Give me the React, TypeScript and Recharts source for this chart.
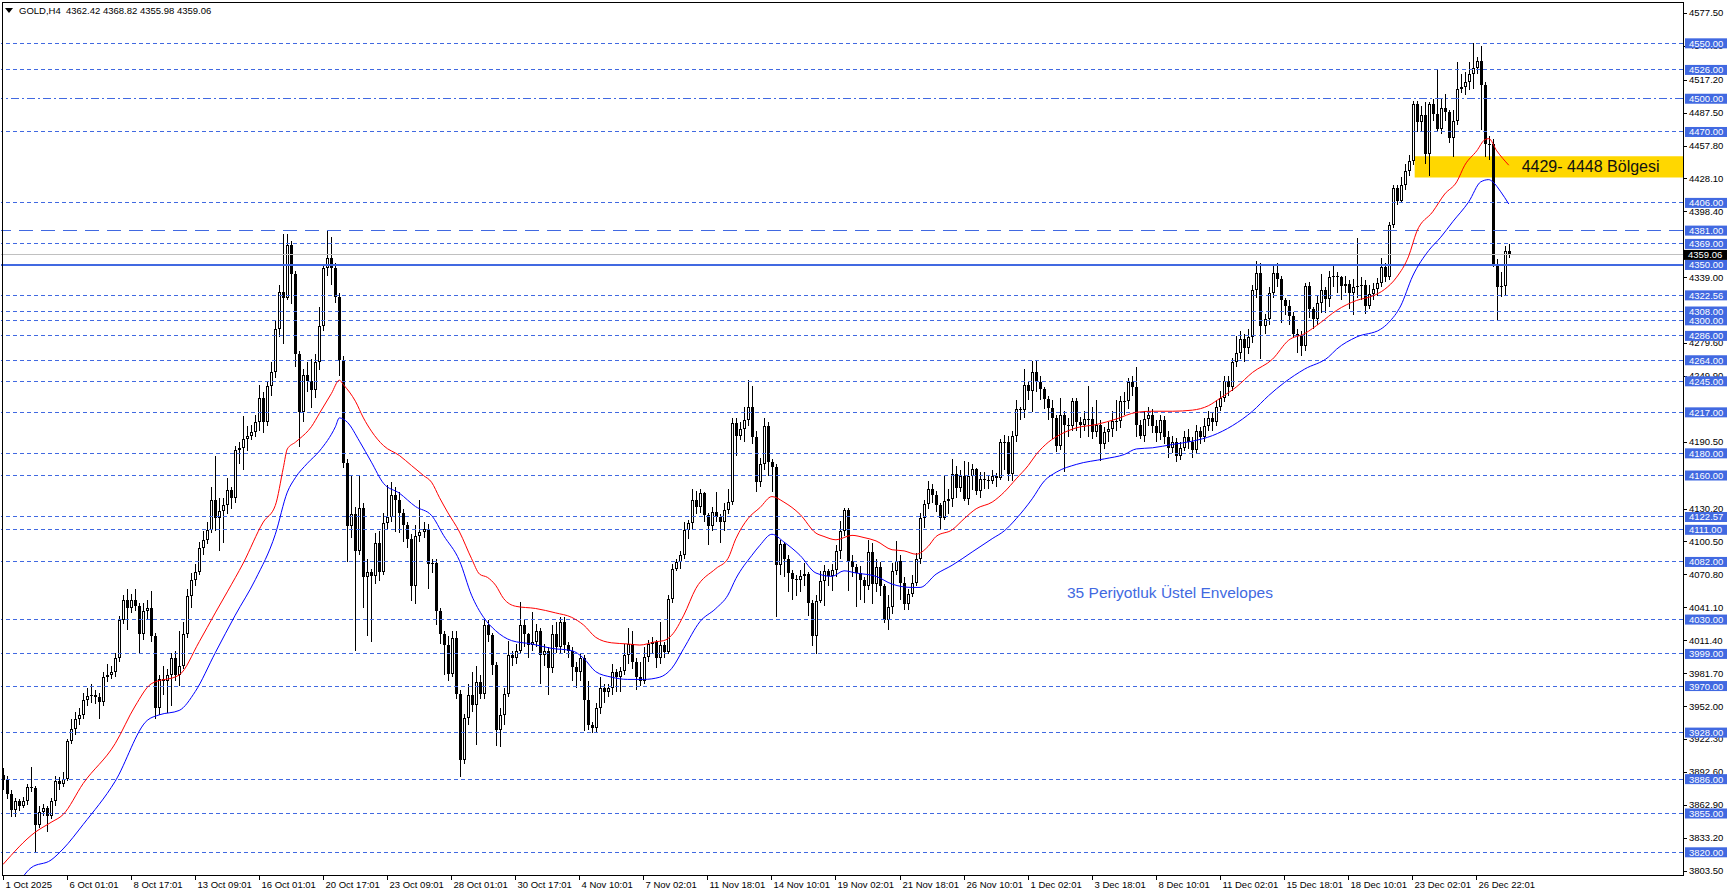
import React from "react";
import {
  ComposedChart,
  Bar,
  Line,
  XAxis,
  YAxis,
  ReferenceLine,
  ReferenceArea,
} from "recharts";

const W = 1729;
const H = 896;
const SLOTS = 420; // bar slots on the x axis (right part left empty, chart shift)
const FIRST_OPEN = 3890;

// H4 closes (opens are the previous close)
const closes = [
  3885, 3873, 3858, 3866, 3862, 3866, 3879, 3878, 3845, 3856,
  3860, 3853, 3866, 3884, 3882, 3886, 3920, 3931, 3940, 3944,
  3957, 3961, 3962, 3960, 3956, 3978, 3980, 3983, 3995, 4030,
  4048, 4040, 4048, 4042, 4017, 4038, 4040, 4015, 3950, 3976,
  3975, 3980, 3995, 3980, 3988, 4017, 4051, 4066, 4073, 4095,
  4102, 4111, 4138, 4122, 4128, 4133, 4147, 4140, 4183, 4185,
  4193, 4196, 4199, 4208, 4230, 4208, 4241, 4253, 4292, 4326,
  4320, 4368, 4342, 4270, 4217, 4251, 4245, 4237, 4262, 4295,
  4347, 4356, 4347, 4321, 4264, 4171, 4114, 4125, 4092, 4131,
  4068, 4073, 4069, 4099, 4073, 4117, 4123, 4142, 4138, 4126,
  4115, 4103, 4060, 4105, 4109, 4112, 4080, 4081, 4038, 4017,
  4007, 3981, 4013, 3963, 3903, 3941, 3962, 3953, 3974, 3963,
  4025, 4016, 3989, 3930, 3944, 3963, 3998, 3995, 4002, 4025,
  4017, 4007, 4010, 4020, 3998, 4002, 3986, 4017, 4005, 4028,
  4007, 4002, 3987, 3983, 3995, 3957, 3935, 3932, 3950, 3968,
  3965, 3968, 3983, 3978, 3984, 3998, 4008, 3992, 3978, 3975,
  3996, 4008, 4010, 3995, 4007, 4001, 4049, 4076, 4082, 4088,
  4111, 4117, 4138, 4132, 4144, 4124, 4114, 4127, 4123, 4118,
  4129, 4136, 4207, 4196, 4202, 4210, 4222, 4195, 4154, 4170,
  4205, 4172, 4168, 4079, 4098, 4085, 4072, 4067, 4066, 4069,
  4071, 4045, 4015, 4047, 4065, 4074, 4069, 4075, 4092, 4110,
  4129, 4083, 4077, 4072, 4066, 4060, 4091, 4062, 4077, 4060,
  4030, 4041, 4074, 4083, 4063, 4044, 4053, 4063, 4085, 4122,
  4134, 4148, 4142, 4133, 4122, 4137, 4139, 4161, 4149, 4160,
  4139, 4160, 4166, 4146, 4157, 4156, 4155, 4160, 4158, 4190,
  4190, 4161, 4196, 4220, 4219, 4242, 4236, 4253, 4244, 4238,
  4229, 4221, 4212, 4187, 4215, 4206, 4205, 4227, 4208, 4206,
  4211, 4211, 4199, 4206, 4188, 4199, 4202, 4209, 4209, 4227,
  4227, 4244, 4240, 4206, 4196, 4211, 4215, 4205, 4198, 4210,
  4195, 4185, 4190, 4178, 4185, 4195, 4190, 4183, 4200, 4195,
  4205, 4212, 4208, 4222, 4230, 4245, 4240, 4262, 4271, 4283,
  4275, 4285, 4327, 4343, 4295, 4301, 4325, 4343, 4337, 4318,
  4313, 4304, 4288, 4286, 4277, 4331, 4310, 4301, 4316, 4327,
  4319, 4339, 4340, 4339, 4331, 4333, 4325, 4330, 4331, 4332,
  4313, 4324, 4328, 4334, 4348, 4339, 4386, 4419, 4408, 4422,
  4435, 4444, 4495, 4479, 4485, 4450, 4495, 4486, 4473, 4492,
  4488, 4465, 4480, 4509, 4511, 4515, 4522, 4528, 4534, 4512,
  4459, 4459, 4351, 4330, 4331, 4362.42, 4359.06,
];

const highs = [
  3896, 3889, 3876, 3869, 3868, 3870, 3882, 3897, 3880, 3862,
  3864, 3862, 3869, 3889, 3888, 3892, 3922, 3940, 3947, 3950,
  3964, 3968, 3972, 3966, 3964, 3983, 3990, 3988, 4000, 4033,
  4052, 4058, 4053, 4058, 4045, 4045, 4048, 4056, 4018, 3980,
  3988, 3985, 4000, 4002, 4020, 4028, 4058, 4072, 4080, 4100,
  4110, 4118, 4150, 4178, 4140, 4140, 4158, 4150, 4187, 4190,
  4214, 4205, 4206, 4215, 4242, 4235, 4245, 4262, 4300, 4332,
  4378, 4378, 4372, 4345, 4272, 4256, 4262, 4265, 4270, 4312,
  4350, 4381, 4375, 4352, 4325, 4268, 4175, 4160, 4132, 4160,
  4135, 4085, 4076, 4108, 4110, 4126, 4151, 4154, 4150, 4145,
  4130, 4118, 4107, 4115, 4138, 4118, 4116, 4085, 4085, 4040,
  4020, 4015, 4020, 4020, 3966, 3945, 3972, 3983, 3988, 3980,
  4031, 4030, 4018, 3992, 3950, 3968, 4011, 4002, 4008, 4046,
  4030, 4018, 4037, 4026, 4022, 4008, 4005, 4025, 4028, 4032,
  4032, 4010, 4005, 3992, 4000, 3998, 3975, 3938, 3955, 3978,
  3972, 3972, 3990, 3985, 3987, 4008, 4022, 4020, 3995, 3992,
  4005, 4012, 4014, 4012, 4028, 4010, 4052, 4080, 4085, 4092,
  4118, 4120, 4148, 4146, 4148, 4145, 4126, 4132, 4145, 4125,
  4135, 4148, 4212, 4212, 4208, 4222, 4246, 4241, 4200, 4176,
  4212, 4208, 4175, 4170, 4102, 4100, 4088, 4075, 4070, 4075,
  4081, 4073, 4048, 4052, 4074, 4079, 4076, 4080, 4097, 4119,
  4131, 4131, 4088, 4080, 4078, 4068, 4102, 4099, 4085, 4082,
  4062, 4052, 4081, 4101, 4088, 4068, 4058, 4070, 4090, 4126,
  4138, 4155, 4152, 4146, 4135, 4160, 4148, 4175, 4169, 4165,
  4173, 4172, 4170, 4167, 4163, 4163, 4160, 4165, 4162, 4193,
  4197, 4196, 4200, 4228, 4222, 4256, 4245, 4263, 4263, 4250,
  4240, 4232, 4228, 4215, 4230, 4218, 4212, 4230, 4230, 4213,
  4218, 4241, 4222, 4228, 4210, 4204, 4208, 4218, 4228, 4232,
  4235, 4248, 4250, 4258, 4210, 4218, 4222, 4220, 4210, 4215,
  4214, 4200, 4196, 4194, 4190, 4200, 4202, 4195, 4206, 4204,
  4212, 4218, 4216, 4228, 4236, 4250, 4250, 4266, 4286, 4290,
  4288, 4292, 4332, 4354, 4352, 4306, 4330, 4349, 4352, 4340,
  4320, 4318, 4308, 4292, 4290, 4334, 4335, 4312, 4322, 4342,
  4330, 4345, 4349, 4344, 4340, 4340, 4336, 4337, 4374, 4339,
  4336, 4332, 4334, 4338, 4356, 4352, 4389, 4422, 4422, 4429,
  4441, 4449, 4498, 4498, 4493, 4497, 4497, 4500, 4526, 4501,
  4504, 4490, 4490, 4533, 4522, 4524, 4533, 4550, 4538, 4548,
  4515, 4466, 4464, 4355, 4344, 4367, 4368.82,
];

const lows = [
  3876, 3868, 3852, 3852, 3857, 3860, 3863, 3874, 3820, 3842,
  3853, 3838, 3850, 3862, 3876, 3879, 3884, 3918, 3926, 3935,
  3940, 3952, 3955, 3954, 3940, 3952, 3974, 3976, 3978, 3992,
  4026, 4021, 4036, 4038, 4000, 4012, 4030, 4010, 3940, 3944,
  3962, 3946, 3952, 3975, 3970, 3985, 4013, 4040, 4060, 4070,
  4088, 4098, 4108, 4110, 4092, 4099, 4125, 4130, 4135, 4170,
  4165, 4182, 4192, 4195, 4200, 4198, 4205, 4232, 4248, 4285,
  4279, 4318, 4315, 4258, 4186, 4208, 4235, 4221, 4230, 4255,
  4290, 4340, 4332, 4316, 4250, 4167, 4082, 4104, 4002, 4088,
  4040, 4015, 4010, 4062, 4065, 4070, 4112, 4118, 4109, 4108,
  4100, 4095, 4047, 4044, 4100, 4104, 4058, 4072, 4025, 4008,
  3980, 3975, 3978, 3958, 3888, 3900, 3935, 3947, 3917, 3958,
  3958, 4010, 3980, 3916, 3915, 3935, 3960, 3988, 3990, 4000,
  4005, 3995, 4002, 4005, 3972, 3988, 3962, 3982, 4000, 4000,
  4000, 3995, 3975, 3968, 3975, 3929, 3930, 3928, 3928, 3945,
  3955, 3960, 3962, 3965, 3965, 3980, 3990, 3985, 3966, 3970,
  3972, 3992, 4000, 3986, 3990, 3995, 3999, 4045, 4074, 4076,
  4085, 4103, 4112, 4125, 4126, 4118, 4097, 4110, 4118, 4099,
  4110, 4125, 4133, 4178, 4192, 4190, 4205, 4188, 4145, 4150,
  4165, 4160, 4145, 4032, 4070, 4068, 4055, 4048, 4051, 4055,
  4060, 4033, 4006, 3999, 4045, 4042, 4060, 4056, 4068, 4085,
  4105, 4056, 4068, 4041, 4048, 4045, 4057, 4044, 4055, 4051,
  4027, 4021, 4035, 4070, 4048, 4039, 4039, 4050, 4060, 4080,
  4113, 4130, 4135, 4127, 4112, 4120, 4125, 4132, 4140, 4145,
  4137, 4133, 4147, 4142, 4140, 4148, 4148, 4152, 4150, 4156,
  4165, 4155, 4155, 4190, 4210, 4212, 4228, 4217, 4235, 4228,
  4220, 4210, 4193, 4181, 4183, 4163, 4195, 4200, 4200, 4194,
  4200, 4195, 4193, 4195, 4173, 4184, 4190, 4195, 4200, 4203,
  4215, 4220, 4232, 4195, 4193, 4190, 4205, 4198, 4190, 4192,
  4188, 4176, 4180, 4172, 4174, 4182, 4184, 4176, 4180, 4188,
  4190, 4200, 4200, 4205, 4218, 4226, 4232, 4236, 4258, 4265,
  4262, 4270, 4280, 4320, 4265, 4288, 4296, 4320, 4330, 4298,
  4305, 4296, 4284, 4271, 4268, 4272, 4302, 4292, 4296, 4307,
  4307, 4312, 4330, 4325, 4318, 4325, 4310, 4305, 4320, 4318,
  4306, 4310, 4318, 4322, 4330, 4335, 4336, 4383, 4404, 4406,
  4418, 4430, 4440, 4470, 4470, 4441, 4430, 4480, 4470, 4468,
  4480, 4460, 4447, 4476, 4505, 4503, 4508, 4509, 4522, 4472,
  4447, 4445, 4348, 4300, 4321, 4322, 4355.98,
];

// 35-period exponential envelopes, [bar, price]
const upperEnv: [number, number][] = [
  [0, 3809], [8, 3838], [12, 3847], [15, 3854], [20, 3882], [28, 3918], [33, 3952],
  [37, 3972], [44, 3980], [49, 4010], [53, 4036], [56, 4055], [60, 4081], [65, 4118],
  [68, 4133], [70, 4167], [71, 4184], [73, 4190], [74, 4193], [77, 4204], [79, 4216],
  [82, 4234], [84, 4246], [85, 4242], [88, 4227], [90, 4212], [92, 4200], [95, 4187],
  [99, 4178], [102, 4169], [105, 4160], [107, 4154], [109, 4140], [111, 4127], [114, 4109],
  [117, 4085], [119, 4071], [121, 4068], [123, 4061], [125, 4049], [128, 4042], [133, 4040],
  [138, 4036], [142, 4032], [145, 4025], [148, 4014], [152, 4009], [156, 4008], [159, 4007],
  [163, 4010], [165, 4011], [167, 4016], [170, 4034], [173, 4058], [178, 4076], [181, 4085],
  [183, 4103], [186, 4121], [189, 4131], [192, 4141], [195, 4136], [199, 4125], [203, 4108],
  [205, 4105], [208, 4102], [212, 4106], [215, 4104], [218, 4101], [222, 4093], [225, 4092],
  [228, 4089], [231, 4096], [233, 4105], [237, 4111], [240, 4121], [243, 4130], [247, 4136],
  [250, 4145], [253, 4157], [256, 4169], [258, 4179], [261, 4190], [264, 4197], [268, 4203],
  [273, 4206], [278, 4211], [283, 4217], [287, 4218], [292, 4218], [297, 4219], [301, 4223],
  [304, 4230], [308, 4240], [312, 4253], [317, 4265], [321, 4282], [325, 4288], [329, 4298],
  [333, 4309], [338, 4318], [342, 4322], [345, 4328], [348, 4339], [351, 4358], [353, 4380],
  [357, 4398], [360, 4414], [363, 4425], [365, 4440], [368, 4453], [370, 4463], [371, 4464],
  [373, 4453], [376, 4440],
];

const lowerEnv: [number, number][] = [
  [5, 3798], [7, 3806], [12, 3813], [15, 3823], [20, 3845], [28, 3884], [36, 3939],
  [39, 3944], [44, 3948], [48, 3965], [53, 4000], [58, 4034], [63, 4066], [68, 4107],
  [71, 4145], [73, 4158], [76, 4171], [79, 4182], [83, 4204], [84, 4212], [86, 4208],
  [89, 4191], [92, 4172], [95, 4153], [99, 4144], [103, 4132], [107, 4124], [110, 4106],
  [114, 4083], [117, 4052], [120, 4032], [123, 4020], [127, 4011], [132, 4008], [137, 4004],
  [142, 4002], [145, 3995], [148, 3983], [152, 3978], [156, 3976], [160, 3976], [164, 3978],
  [167, 3986], [170, 4004], [174, 4028], [178, 4040], [181, 4052], [183, 4067], [187, 4088],
  [189, 4097], [192, 4107], [195, 4100], [199, 4088], [203, 4072], [207, 4069], [210, 4074],
  [213, 4072], [218, 4069], [222, 4062], [227, 4059], [229, 4059], [233, 4071], [237, 4079],
  [242, 4091], [247, 4103], [250, 4110], [253, 4121], [257, 4139], [260, 4155], [263, 4163],
  [268, 4170], [275, 4175], [280, 4179], [283, 4184], [287, 4185], [292, 4188], [297, 4191],
  [302, 4196], [307, 4205], [312, 4218], [316, 4232], [320, 4244], [325, 4256], [331, 4267],
  [333, 4274], [338, 4285], [344, 4292], [346, 4298], [349, 4313], [352, 4340], [356, 4363],
  [359, 4375], [362, 4389], [366, 4407], [369, 4425], [371, 4427], [372, 4425], [374, 4416],
  [376, 4405],
];

const timeTickBars = [
  0, 16, 32, 48, 64, 80, 96, 112, 128, 144, 160, 176,
  192, 208, 224, 240, 256, 272, 288, 304, 320, 336, 352, 368,
];
const timeLabels = [
  "1 Oct 2025", "6 Oct 01:01", "8 Oct 17:01", "13 Oct 09:01", "16 Oct 01:01", "20 Oct 17:01",
  "23 Oct 09:01", "28 Oct 01:01", "30 Oct 17:01", "4 Nov 10:01", "7 Nov 02:01", "11 Nov 18:01",
  "14 Nov 10:01", "19 Nov 02:01", "21 Nov 18:01", "26 Nov 10:01", "1 Dec 02:01", "3 Dec 18:01",
  "8 Dec 10:01", "11 Dec 02:01", "15 Dec 18:01", "18 Dec 10:01", "23 Dec 02:01", "26 Dec 22:01",
];

const priceTicks = [
  3803.5, 3833.2, 3862.9, 3892.6, 3922.3, 3952.0, 3981.7, 4011.4, 4041.1, 4070.8,
  4100.5, 4130.2, 4190.5, 4249.9, 4279.6, 4339.0, 4398.4, 4428.1, 4457.8, 4487.5,
  4517.2, 4547.8, 4577.5,
];

const levels = [
  4550, 4526, 4500, 4470, 4406, 4381, 4369, 4350, 4322.56, 4308, 4300, 4286, 4264, 4245,
  4217, 4180, 4160, 4122.57, 4111, 4082, 4030, 3999, 3970, 3928, 3886, 3855, 3820,
];
const dashDotLevels = [4500];
const longDashLevels = [4381];
const solidLevels = [4350];

const lastPrice = 4359.06;
const zoneLow = 4429;
const zoneHigh = 4448;
const zoneStartBar = 353;

const Y_DOMAIN: [number, number] = [3799.5, 4589.1];
const BLUE = "#4169E1";
const FONT = "'Liberation Sans', Arial, sans-serif";

const upMap = new Map(upperEnv);
const dnMap = new Map(lowerEnv);
const labelMap = new Map(timeTickBars.map((b, k) => [b, timeLabels[k]]));
const levelSet = new Set(levels);

const data = Array.from({ length: SLOTS }, (_, i) => {
  const row: any = { i, up: upMap.get(i) ?? null, dn: dnMap.get(i) ?? null };
  if (i < closes.length) {
    const o = i === 0 ? FIRST_OPEN : closes[i - 1];
    const c = closes[i];
    row.o = o;
    row.c = c;
    row.hl = [Math.min(lows[i], o, c), Math.max(highs[i], o, c)];
  }
  return row;
});

function Candle(props: any) {
  const { x, y, width, height, payload } = props;
  if (!payload || payload.c == null) return null;
  const [lo, hi] = payload.hl;
  const top0 = Math.min(y, y + height);
  const h = Math.abs(height);
  const k = hi === lo ? 0 : h / (hi - lo);
  const py = (p: number) => top0 + (hi - p) * k;
  const cx = Math.floor(x + width / 2);
  const wTop = Math.round(py(hi));
  const wBot = Math.round(py(lo));
  const bTop = Math.round(py(Math.max(payload.o, payload.c)));
  const bBot = Math.round(py(Math.min(payload.o, payload.c)));
  const bh = Math.max(1, bBot - bTop);
  const bull = payload.c >= payload.o;
  return (
    <g shapeRendering="crispEdges">
      <rect x={cx} y={wTop} width={1} height={Math.max(1, wBot - wTop)} fill="#000" />
      {bull && bh > 2 ? (
        <rect x={cx - 0.5} y={bTop + 0.5} width={2} height={bh - 1} fill="#fff" stroke="#000" strokeWidth={1} />
      ) : (
        <rect x={cx - 1} y={bTop} width={3} height={bh} fill="#000" />
      )}
    </g>
  );
}

function TimeTick(props: any) {
  const { x, payload } = props;
  const label = labelMap.get(payload.value);
  if (!label) return null;
  const px = Math.floor(x) + 0.5;
  return (
    <g>
      <line x1={px} x2={px} y1={875} y2={880} stroke="#000" shapeRendering="crispEdges" />
      <text x={px + 2} y={888} fontSize={9.5} fontFamily={FONT} fill="#000">
        {label}
      </text>
    </g>
  );
}

function PriceTick(props: any) {
  const { y, payload } = props;
  const v = payload.value;
  const s = v.toFixed(2);
  if (v === lastPrice) {
    return (
      <g>
        <rect x={1684} y={y - 5} width={43} height={10} fill="#000" />
        <text x={1688} y={y + 3.5} fontSize={9.5} fontFamily={FONT} fill="#fff">{s}</text>
      </g>
    );
  }
  if (levelSet.has(v)) {
    return (
      <g>
        <rect x={1685} y={y - 5} width={42} height={10} fill={BLUE} />
        <text x={1689} y={y + 3.5} fontSize={9.5} fontFamily={FONT} fill="#fff">{s}</text>
      </g>
    );
  }
  const py = Math.round(y) + 0.5;
  return (
    <g>
      <line x1={1683} x2={1687} y1={py} y2={py} stroke="#000" shapeRendering="crispEdges" />
      <text x={1689} y={y + 3.5} fontSize={9.5} fontFamily={FONT} fill="#000">{s}</text>
    </g>
  );
}

function ZoneLabel(props: any) {
  const vb = props.viewBox || {};
  return (
    <text x={vb.x + 107} y={vb.y + vb.height / 2 + 5.5} fontSize={16} fontFamily={FONT} fill="#111">
      4429- 4448 Bölgesi
    </text>
  );
}

function dashFor(v: number) {
  if (dashDotLevels.includes(v)) return "8 3 2 3";
  if (longDashLevels.includes(v)) return "14 8";
  if (solidLevels.includes(v)) return undefined;
  return "4 3";
}

export default function App() {
  return (
    <div style={{ position: "absolute", left: 0, top: 0, width: W, height: H, background: "#fff", overflow: "hidden" }}>
      <ComposedChart
        width={W}
        height={H}
        data={data}
        margin={{ top: 0, right: 0, bottom: 0, left: 1 }}
        barSize={3}
      >
        <XAxis
          dataKey="i"
          type="category"
          ticks={timeTickBars}
          interval={0}
          height={21}
          tickLine={false}
          axisLine={false}
          tick={<TimeTick />}
        />
        <YAxis
          orientation="right"
          type="number"
          domain={Y_DOMAIN}
          allowDataOverflow
          width={46}
          ticks={[...priceTicks, ...levels, lastPrice]}
          interval={0}
          tickLine={false}
          axisLine={false}
          tick={<PriceTick />}
        />
        <ReferenceArea
          x1={zoneStartBar}
          x2={SLOTS - 1}
          y1={zoneLow}
          y2={zoneHigh}
          fill="#FFD700"
          fillOpacity={1}
          stroke="none"
          label={<ZoneLabel />}
        />
        <ReferenceLine y={lastPrice} stroke="#c0c0c0" strokeWidth={1} shapeRendering="crispEdges" />
        {levels.map((v) => (
          <ReferenceLine
            key={v}
            y={v}
            stroke={BLUE}
            strokeWidth={solidLevels.includes(v) ? 2 : 1}
            strokeDasharray={dashFor(v)}
            shapeRendering="crispEdges"
          />
        ))}
        <Bar dataKey="hl" shape={<Candle />} isAnimationActive={false} />
        <Line type="monotone" dataKey="up" stroke="#ff0000" strokeWidth={1} dot={false} connectNulls isAnimationActive={false} />
        <Line type="monotone" dataKey="dn" stroke="#0000ff" strokeWidth={1} dot={false} connectNulls isAnimationActive={false} />
      </ComposedChart>

      {/* chart frame */}
      <div
        style={{
          position: "absolute",
          left: 2,
          top: 2,
          width: 1682,
          height: 874,
          border: "1px solid #000",
          boxSizing: "border-box",
          pointerEvents: "none",
        }}
      />

      {/* header */}
      <div style={{ position: "absolute", left: 5, top: 5, fontFamily: FONT, fontSize: 9.5, lineHeight: "11px", whiteSpace: "pre", color: "#000", display: "flex", alignItems: "center" }}>
        <svg width={9} height={6} style={{ marginRight: 5 }}>
          <polygon points="0,0 8,0 4,5" fill="#000" />
        </svg>
        <span>GOLD,H4  4362.42 4368.82 4355.98 4359.06</span>
      </div>

      <div style={{ position: "absolute", left: 1067, top: 584, fontFamily: FONT, fontSize: 15.5, lineHeight: "18px", color: BLUE, whiteSpace: "pre" }}>
        35 Periyotluk Üstel Envelopes
      </div>
    </div>
  );
}
